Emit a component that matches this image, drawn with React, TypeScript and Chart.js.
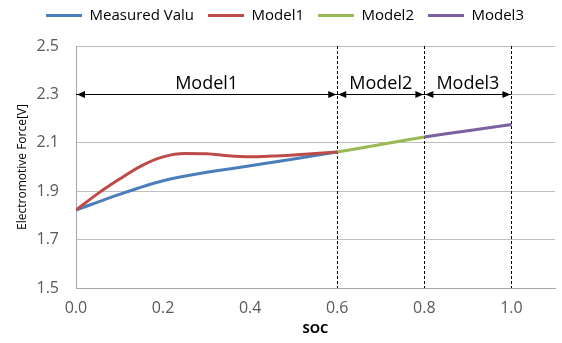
import React, { useEffect, useRef } from "react";
import { Chart, registerables } from "chart.js";

Chart.register(...registerables);

// ---- data ----
const measuredSoc = [0, 0.1, 0.2, 0.3, 0.4, 0.5, 0.6];
const measuredVals = [1.822, 1.887, 1.943, 1.978, 2.005, 2.033, 2.062];
const model1Soc = [0, 0.05, 0.1, 0.15, 0.2, 0.25, 0.3, 0.35, 0.4, 0.45, 0.5, 0.55, 0.6];
const model1Vals = [1.822, 1.89, 1.95, 2.005, 2.042, 2.056, 2.055, 2.046, 2.042, 2.045, 2.05, 2.056, 2.062];
const model2Soc = [0.6, 0.7, 0.8];
const model2Vals = [2.062, 2.093, 2.124];
const model3Soc = [0.8, 0.9, 1.0];
const model3Vals = [2.124, 2.15, 2.176];

const seriesNames = ["Measured Valu", "Model1", "Model2", "Model3"];
const seriesColors = ["#4a7ebb", "#be4b48", "#98b954", "#7d60a0"];

const regionBounds = [0, 0.6, 0.8, 1.0];
const regionLabels = ["Model1", "Model2", "Model3"];
const arrowLevel = 2.3;
const regionLabelLevel = 2.345;

const FONT = "'Open Sans', 'DejaVu Sans', sans-serif";

const toPts = (xs: number[], ys: number[]) => xs.map((x, i) => ({ x, y: ys[i] }));

const annotationPlugin = {
  id: "regions",
  beforeDatasetsDraw(chart: any) {
    const { ctx, chartArea, scales } = chart;
    const xs = scales.x;
    const ys = scales.y;
    ctx.save();
    // dashed vertical boundaries
    ctx.strokeStyle = "#000";
    ctx.lineWidth = 1;
    ctx.setLineDash([3, 2]);
    regionBounds.slice(1).forEach((b) => {
      const px = Math.round(xs.getPixelForValue(b)) + 0.5;
      ctx.beginPath();
      ctx.moveTo(px, chartArea.top);
      ctx.lineTo(px, chartArea.bottom);
      ctx.stroke();
    });
    ctx.setLineDash([]);
    // arrow line
    const py = Math.round(ys.getPixelForValue(arrowLevel)) + 0.5;
    ctx.beginPath();
    ctx.moveTo(xs.getPixelForValue(regionBounds[0]), py);
    ctx.lineTo(xs.getPixelForValue(regionBounds[regionBounds.length - 1]), py);
    ctx.stroke();
    const head = (x: number, dir: number) => {
      ctx.fillStyle = "#000";
      ctx.beginPath();
      ctx.moveTo(x, py);
      ctx.lineTo(x - dir * 8, py - 3.5);
      ctx.lineTo(x - dir * 8, py + 3.5);
      ctx.closePath();
      ctx.fill();
    };
    for (let i = 0; i < regionLabels.length; i++) {
      const a = xs.getPixelForValue(regionBounds[i]);
      const b = xs.getPixelForValue(regionBounds[i + 1]);
      head(a + 1, -1);
      head(b - 1, 1);
      ctx.font = `18px ${FONT}`;
      ctx.textAlign = "center";
      ctx.textBaseline = "middle";
      ctx.fillStyle = "#000";
      ctx.fillText(regionLabels[i], (a + b) / 2, ys.getPixelForValue(regionLabelLevel));
    }
    ctx.restore();
  },
};

export default function App() {
  const ref = useRef<HTMLCanvasElement | null>(null);
  useEffect(() => {
    if (!ref.current) return;
    const sets = [
      toPts(measuredSoc, measuredVals),
      toPts(model1Soc, model1Vals),
      toPts(model2Soc, model2Vals),
      toPts(model3Soc, model3Vals),
    ];
    const chart = new Chart(ref.current, {
      type: "line",
      data: {
        datasets: sets.map((d, i) => ({
          label: seriesNames[i],
          data: d,
          borderColor: seriesColors[i],
          backgroundColor: seriesColors[i],
          borderWidth: 3,
          pointRadius: 0,
          tension: 0.4,
          cubicInterpolationMode: "monotone" as const,
          order: i === 1 ? 0 : i + 1,
        })),
      },
      options: {
        animation: false,
        responsive: false,
        layout: { padding: { left: 15, right: 7, top: -6, bottom: 6 } },
        plugins: {
          tooltip: { enabled: false },
          title: {
            display: true,
            text: "",
            position: "top",
            weight: 500,
            padding: 0,
            font: { size: 13, lineHeight: 1 },
          },
          legend: {
            position: "top",
            labels: {
              font: { family: FONT, size: 15 },
              color: "#000",
              boxWidth: 36,
              boxHeight: 3,
              padding: 14,
              generateLabels: (c: any) =>
                c.data.datasets.map((ds: any, i: number) => ({
                  text: ds.label,
                  fillStyle: ds.borderColor,
                  strokeStyle: ds.borderColor,
                  lineWidth: 0,
                  datasetIndex: i,
                  fontColor: "#000",
                })),
            },
          },
        },
        scales: {
          x: {
            type: "linear",
            min: 0,
            max: 1.1,
            border: { color: "#a6a6a6" },
            grid: { display: false, drawTicks: false },
            afterFit: (s: any) => {
              s.height = 49;
            },
            ticks: {
              stepSize: 0.2,
              includeBounds: false,
              padding: 11,
              color: "#595959",
              font: { family: FONT, size: 16 },
              callback: (v: any) => Number(v).toFixed(1),
            },
            title: {
              display: true,
              text: "SOC",
              color: "#000",
              font: { family: FONT, size: 13, weight: "bold" },
              padding: { top: 0, bottom: 0 },
            },
          },
          y: {
            min: 1.5,
            max: 2.5,
            border: { color: "#a6a6a6" },
            grid: { color: "#bfbfbf", drawTicks: false },
            afterFit: (s: any) => {
              s.width = 61;
            },
            ticks: {
              stepSize: 0.2,
              padding: 17,
              color: "#595959",
              font: { family: FONT, size: 16 },
              callback: (v: any) => Number(v).toFixed(1),
            },
            title: {
              display: true,
              text: "Electromotive Force[V]",
              color: "#000",
              font: { family: FONT, size: 12 },
              padding: { top: 0, bottom: 0 },
            },
          },
        },
      },
      plugins: [annotationPlugin],
    });
    return () => chart.destroy();
  }, []);
  return (
    <div style={{ position: "absolute", left: 0, top: 0, width: 562, height: 343, background: "#fff" }}>
      <canvas ref={ref} width={562} height={343} style={{ display: "block" }} />
    </div>
  );
}
